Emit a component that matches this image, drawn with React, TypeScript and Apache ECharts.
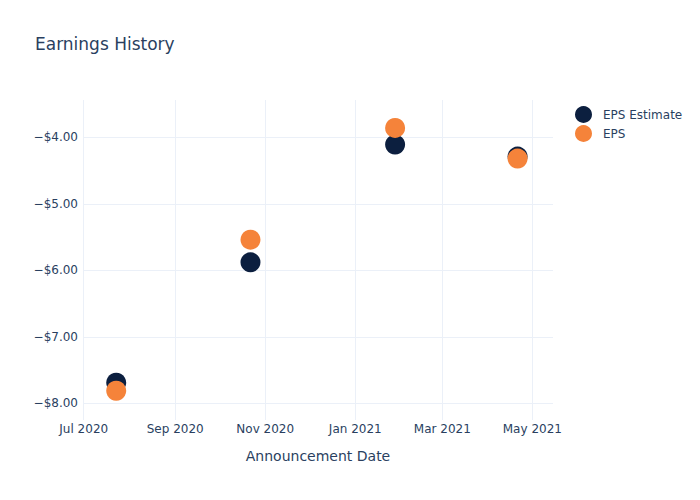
import React, { useEffect, useRef } from "react";
import * as echarts from "echarts";

const dates = ["2020-07-23", "2020-10-22", "2021-01-28", "2021-04-21"];
const epsEstimate = [-7.69, -5.88, -4.11, -4.29];
const eps = [-7.81, -5.54, -3.86, -4.32];
const xTicks = ["2020-07-01", "2020-09-01", "2020-11-01", "2021-01-01", "2021-03-01", "2021-05-01"];
const yTicks = [-8, -7, -6, -5, -4];
const monthNames = ["Jan", "Feb", "Mar", "Apr", "May", "Jun", "Jul", "Aug", "Sep", "Oct", "Nov", "Dec"];

const ts = (s: string) => {
  const [y, m, d] = s.split("-").map(Number);
  return Date.UTC(y, m - 1, d);
};

const TEXT = "#2a3f5f";
const GRID = "#ebf0f8";
const FONT = "DejaVu Sans";

export default function App() {
  const ref = useRef<HTMLDivElement>(null);
  useEffect(() => {
    if (!ref.current) return;
    const chart = echarts.init(ref.current, undefined, { renderer: "svg" });
    chart.setOption({
      animation: false,
      textStyle: { fontFamily: FONT },
      title: {
        text: "Earnings History",
        left: 30,
        top: 30,
        textStyle: { fontSize: 17, fontWeight: "normal", color: TEXT, fontFamily: FONT },
      },
      legend: {
        orient: "vertical",
        left: 570,
        top: 101,
        icon: "circle",
        itemWidth: 17,
        itemHeight: 17,
        itemGap: 2,
        textStyle: { fontSize: 12, color: TEXT, fontFamily: FONT, padding: [0, 0, 0, 6] },
        data: ["EPS Estimate", "EPS"],
      },
      grid: { left: 83, right: 147, top: 100, bottom: 80 },
      xAxis: {
        type: "value",
        min: ts("2020-06-30") + 12 * 3600 * 1000,
        max: ts("2021-05-15"),
        name: "Announcement Date",
        nameLocation: "middle",
        nameGap: 29,
        nameTextStyle: { fontSize: 14, color: TEXT, fontFamily: FONT },
        axisLine: { show: false },
        axisTick: { show: false, customValues: xTicks.map(ts) },
        splitLine: { show: true, lineStyle: { color: GRID, width: 1 } },
        axisLabel: {
          customValues: xTicks.map(ts),
          color: TEXT,
          fontSize: 12,
          fontFamily: FONT,
          margin: 3,
          formatter: (v: number) => {
            const d = new Date(v);
            return monthNames[d.getUTCMonth()] + " " + d.getUTCFullYear();
          },
        },
      },
      yAxis: {
        type: "value",
        min: -8.25,
        max: -3.44,
        axisLine: { show: false },
        axisTick: { show: false, customValues: yTicks },
        splitLine: { show: true, lineStyle: { color: GRID, width: 1 } },
        axisLabel: {
          customValues: yTicks,
          color: TEXT,
          fontSize: 12,
          fontFamily: FONT,
          margin: 5,
          formatter: (v: number) => (v < 0 ? "\u2212" : "") + "$" + Math.abs(v).toFixed(2),
        },
      },
      series: [
        {
          name: "EPS Estimate",
          type: "scatter",
          symbolSize: 20,
          itemStyle: { color: "#0c1f3f", opacity: 1 },
          data: dates.map((d, i) => [ts(d), epsEstimate[i]]),
        },
        {
          name: "EPS",
          type: "scatter",
          symbolSize: 20,
          itemStyle: { color: "#f5833a", opacity: 1 },
          data: dates.map((d, i) => [ts(d), eps[i]]),
        },
      ],
    });
    return () => chart.dispose();
  }, []);
  return <div ref={ref} style={{ width: 700, height: 500, position: "absolute", left: 0, top: 0 }} />;
}
